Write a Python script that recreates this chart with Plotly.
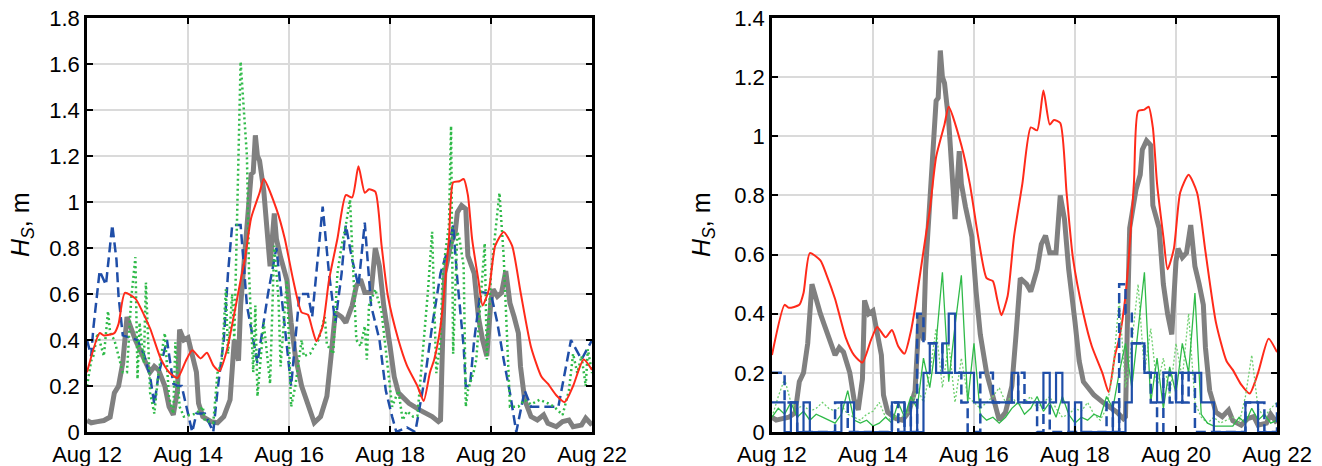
import pandas as pd
import plotly.graph_objects as go
from plotly.subplots import make_subplots

START = pd.Timestamp("2021-08-12")

# ---- shared series (hours since Aug 12 00:00, Hs in m) ----
red_h = [0, 6, 8, 13, 15, 18, 23, 26, 30, 35, 39, 43, 47, 50, 54, 57, 60, 63, 66, 68, 73, 75, 78, 82, 84,
         90, 94, 98, 102, 105, 107, 109, 112, 115, 119, 123, 126, 129, 132, 134, 137, 140, 143, 148, 152,
         157, 160, 163, 165, 168, 172, 174, 177, 179, 181, 183, 186, 188, 191, 194, 198, 202, 206, 211,
         216, 219, 223, 227, 231, 236, 240]
red_v = [0.26, 0.43, 0.42, 0.43, 0.47, 0.605, 0.58, 0.53, 0.45, 0.32, 0.26, 0.235, 0.31, 0.355, 0.32, 0.345,
         0.29, 0.265, 0.34, 0.42, 0.66, 0.75, 0.93, 1.04, 1.10, 0.97, 0.84, 0.66, 0.52, 0.51, 0.45, 0.395,
         0.46, 0.66, 0.84, 1.03, 1.02, 1.155, 1.04, 1.055, 1.045, 0.81, 0.59, 0.40, 0.29, 0.20, 0.135, 0.26,
         0.315, 0.46, 0.84, 1.085, 1.09, 1.10, 1.03, 0.84, 0.66, 0.55, 0.62, 0.81, 0.87, 0.81, 0.61, 0.37,
         0.24, 0.21, 0.16, 0.13, 0.20, 0.315, 0.27]

grey_h = [0, 2, 5, 8, 11, 13, 15, 17, 19, 21, 23, 25, 26, 28, 30, 32, 34, 37, 39, 41, 43, 44, 46, 48, 49,
          52, 53, 55, 59, 62, 65, 68, 70, 72, 73, 75, 77, 78, 79, 80, 81, 82, 84, 86, 87, 89, 90, 92, 95,
          97, 99, 102, 106, 108, 111, 114, 116, 118, 121, 123, 126, 128, 130, 132, 135, 137, 139, 141,
          144, 146, 148, 153, 158, 164, 167, 168, 169, 170, 173, 175, 176, 178, 180, 181, 184, 186, 188,
          190, 192, 193, 195, 197, 199, 201, 203, 205, 206, 208, 211, 214, 217, 219, 223, 226, 229, 231,
          235, 237, 240]
grey_v = [0.05, 0.04, 0.045, 0.05, 0.065, 0.17, 0.20, 0.30, 0.50, 0.445, 0.40, 0.36, 0.34, 0.30, 0.26, 0.285,
          0.27, 0.20, 0.11, 0.075, 0.18, 0.445, 0.40, 0.41, 0.37, 0.26, 0.125, 0.067, 0.045, 0.04, 0.067,
          0.14, 0.40, 0.31, 0.55, 0.77, 0.95, 1.12, 1.13, 1.29, 1.20, 1.18, 1.05, 0.84, 0.72, 0.95, 0.84,
          0.76, 0.66, 0.475, 0.33, 0.20, 0.096, 0.04, 0.067, 0.155, 0.33, 0.52, 0.50, 0.475, 0.55, 0.635,
          0.664, 0.606, 0.606, 0.80, 0.72, 0.55, 0.373, 0.24, 0.17, 0.125, 0.096, 0.067, 0.045, 0.052, 0.40,
          0.69, 0.82, 0.87, 0.955, 0.985, 0.97, 0.766, 0.69, 0.50, 0.40, 0.33, 0.577, 0.62, 0.59, 0.606,
          0.70, 0.56, 0.50, 0.43, 0.285, 0.14, 0.067, 0.052, 0.074, 0.038, 0.023, 0.045, 0.052, 0.023,
          0.03, 0.06, 0.03]

# ---- left panel extra series ----
blueL_h = [0, 2, 3, 6, 9, 12, 14, 15, 17, 20, 24, 27, 30, 32, 34, 38, 41, 43, 45, 50, 52, 56, 60, 62, 65,
           67, 69, 73, 76, 81, 86, 90, 93, 97, 101, 105, 107, 112, 115, 118, 121, 123, 126, 129, 132, 135,
           139, 142, 145, 147, 152, 156, 159, 161, 164, 168, 172, 174, 176, 179, 180, 182, 184, 187, 192,
           195, 198, 201, 204, 208, 211, 224, 230, 235, 240]
blueL_v = [0.40, 0.33, 0.45, 0.70, 0.64, 0.90, 0.75, 0.59, 0.42, 0.41, 0.40, 0.34, 0.24, 0.12, 0.25, 0.40,
           0.21, 0.20, 0.20, 0.0, 0.08, 0.08, 0.0, 0.18, 0.40, 0.69, 0.90, 0.90, 0.55, 0.30, 0.60, 0.80,
           0.55, 0.20, 0.60, 0.60, 0.50, 0.98, 0.69, 0.475, 0.69, 0.90, 0.75, 0.635, 0.91, 0.55, 0.40, 0.18,
           0.067, 0.0, 0.02, 0.0, 0.155, 0.26, 0.46, 0.69, 0.81, 0.90, 0.66, 0.37, 0.20, 0.20, 0.40, 0.61,
           0.60, 0.475, 0.315, 0.17, 0.0, 0.18, 0.11, 0.11, 0.40, 0.315, 0.40]

greenL_h = [0, 2, 3, 5, 8, 10, 11, 13, 15, 17, 19, 21, 23, 24, 25, 27, 28, 30, 32, 34, 37, 39, 41, 42, 44,
            46, 49, 52, 55, 56, 60, 61, 62, 64, 66, 67, 69, 70, 73, 76, 77, 79, 80, 81, 84, 87, 89, 91, 92,
            95, 97, 99, 102, 103, 106, 108, 110, 113, 114, 117, 119, 121, 123, 125, 126, 128, 129, 130,
            132, 133, 134, 136, 137, 140, 143, 145, 148, 150, 152, 155, 157, 160, 162, 164, 166, 168, 169,
            172, 173, 174, 176, 177, 179, 180, 181, 184, 185, 189, 190, 192, 196, 198, 201, 205, 208, 211,
            215, 219, 222, 226, 229, 231, 233, 235, 237, 238, 240]
greenL_v = [0.20, 0.31, 0.33, 0.43, 0.33, 0.525, 0.43, 0.40, 0.33, 0.26, 0.26, 0.58, 0.76, 0.23, 0.475,
            0.30, 0.65, 0.17, 0.08, 0.26, 0.43, 0.15, 0.08, 0.39, 0.11, 0.067, 0.074, 0.08, 0.11, 0.05,
            0.04, 0.155, 0.256, 0.30, 0.62, 0.34, 0.60, 0.40, 1.61, 1.20, 0.69, 0.26, 0.55, 0.155, 0.475,
            0.21, 0.81, 0.58, 0.285, 0.66, 0.11, 0.20, 0.40, 0.33, 0.34, 0.373, 0.40, 0.50, 0.38, 0.34,
            0.69, 0.81, 0.90, 1.01, 0.81, 0.40, 0.387, 0.373, 0.46, 0.315, 0.55, 0.60, 0.62, 0.52, 0.256,
            0.11, 0.18, 0.052, 0.09, 0.067, 0.07, 0.40, 0.61, 0.87, 0.256, 0.40, 0.69, 0.90, 1.33, 0.34,
            0.87, 0.84, 0.72, 0.11, 0.18, 0.27, 0.315, 0.82, 0.315, 0.69, 1.04, 0.766, 0.11, 0.11, 0.14,
            0.12, 0.14, 0.125, 0.11, 0.074, 0.18, 0.34, 0.256, 0.33, 0.20, 0.36, 0.256]

# ---- right panel extra series (3-hourly) ----
hours3 = list(range(0, 241, 3))
blueR_solid = [0.1, 0.1, 0.0, 0.1, 0.0, 0.1, 0.0, 0.0, 0.0, 0.0, 0.0, 0.1, 0.1, 0.0, 0.0, 0.0, 0.0, 0.0,
               0.0, 0.1, 0.1, 0.0, 0.1, 0.0, 0.2, 0.3, 0.2, 0.3, 0.4, 0.2, 0.2, 0.2, 0.1, 0.1, 0.1, 0.1,
               0.1, 0.1, 0.2, 0.1, 0.1, 0.1, 0.1, 0.2, 0.1, 0.2, 0.1, 0.0, 0.1, 0.0, 0.0, 0.0, 0.0, 0.0,
               0.1, 0.0, 0.1, 0.3, 0.3, 0.2, 0.2, 0.1, 0.2, 0.2, 0.1, 0.2, 0.2, 0.2, 0.1, 0.1, 0.0, 0.0,
               0.0, 0.0, 0.0, 0.1, 0.1, 0.0, 0.0, 0.0, 0.0]
blueR_dash = [0.2, 0.2, 0.1, 0.1, 0.0, 0.0, 0.0, 0.0, 0.0, 0.0, 0.1, 0.1, 0.0, 0.0, 0.0, 0.0, 0.0, 0.0,
              0.0, 0.1, 0.0, 0.1, 0.0, 0.4, 0.3, 0.3, 0.3, 0.2, 0.2, 0.2, 0.1, 0.0, 0.0, 0.2, 0.2, 0.1,
              0.1, 0.1, 0.1, 0.2, 0.1, 0.1, 0.0, 0.1, 0.0, 0.0, 0.0, 0.0, 0.0, 0.0, 0.0, 0.0, 0.0, 0.1,
              0.0, 0.5, 0.4, 0.3, 0.3, 0.2, 0.1, 0.0, 0.2, 0.1, 0.2, 0.1, 0.2, 0.0, 0.0, 0.0, 0.0, 0.0,
              0.0, 0.0, 0.0, 0.1, 0.1, 0.1, 0.0, 0.0, 0.1]
greenR_solid = [0.05, 0.08, 0.06, 0.10, 0.05, 0.07, 0.04, 0.06, 0.05, 0.04, 0.03, 0.06, 0.14, 0.04, 0.03,
                0.04, 0.02, 0.03, 0.05, 0.03, 0.10, 0.05, 0.12, 0.08, 0.25, 0.15, 0.30, 0.54, 0.17, 0.36,
                0.53, 0.10, 0.30, 0.06, 0.04, 0.05, 0.03, 0.05, 0.08, 0.10, 0.06, 0.08, 0.12, 0.07, 0.10,
                0.05, 0.12, 0.06, 0.03, 0.05, 0.04, 0.06, 0.05, 0.12, 0.08, 0.20, 0.30, 0.15, 0.35, 0.54,
                0.10, 0.25, 0.08, 0.22, 0.13, 0.30, 0.20, 0.47, 0.06, 0.03, 0.02, 0.02, 0.02, 0.02, 0.05,
                0.03, 0.08, 0.04, 0.06, 0.03, 0.04]
greenR_dot = [0.05, 0.12, 0.18, 0.10, 0.08, 0.09, 0.07, 0.08, 0.10, 0.08, 0.07, 0.09, 0.06, 0.05, 0.04,
              0.06, 0.07, 0.10, 0.05, 0.04, 0.06, 0.05, 0.08, 0.15, 0.10, 0.20, 0.35, 0.15, 0.30, 0.10,
              0.25, 0.12, 0.10, 0.08, 0.10, 0.12, 0.15, 0.10, 0.12, 0.09, 0.10, 0.12, 0.08, 0.10, 0.12,
              0.08, 0.05, 0.06, 0.08, 0.07, 0.10, 0.06, 0.04, 0.08, 0.20, 0.45, 0.15, 0.30, 0.50, 0.20,
              0.35, 0.15, 0.25, 0.12, 0.30, 0.18, 0.40, 0.10, 0.05, 0.03, 0.05, 0.03, 0.04, 0.05, 0.03,
              0.12, 0.26, 0.08, 0.05, 0.08, 0.10]

tick_days = [12, 14, 16, 18, 20, 22]


def t(hours):
    return [START + pd.Timedelta(hours=h) for h in hours]


GREY = "#808080"
RED = "#ff2a1a"
BLUE = "#1f4ea8"
GREEN = "#2fba48"
GREEN_L = "#6fd06f"

fig = make_subplots(rows=1, cols=2, horizontal_spacing=0.1512)

# left panel
fig.add_trace(go.Scatter(x=t(grey_h), y=grey_v, mode="lines", line=dict(color=GREY, width=5)), 1, 1)
fig.add_trace(go.Scatter(x=t(blueL_h), y=blueL_v, mode="lines",
                         line=dict(color=BLUE, width=2.5, dash="10px,5px")), 1, 1)
fig.add_trace(go.Scatter(x=t(greenL_h), y=greenL_v, mode="lines",
                         line=dict(color=GREEN, width=2.5, dash="2px,3px")), 1, 1)
fig.add_trace(go.Scatter(x=t(red_h), y=red_v, mode="lines",
                         line=dict(color=RED, width=2, shape="spline", smoothing=0.6)), 1, 1)

# right panel
fig.add_trace(go.Scatter(x=t(grey_h), y=grey_v, mode="lines", line=dict(color=GREY, width=5)), 1, 2)
fig.add_trace(go.Scatter(x=t(red_h), y=red_v, mode="lines",
                         line=dict(color=RED, width=2, shape="spline", smoothing=0.6)), 1, 2)
fig.add_trace(go.Scatter(x=t(hours3), y=greenR_dot, mode="lines",
                         line=dict(color=GREEN_L, width=1.3, dash="2px,2px")), 1, 2)
fig.add_trace(go.Scatter(x=t(hours3), y=greenR_solid, mode="lines",
                         line=dict(color=GREEN, width=1.3)), 1, 2)
fig.add_trace(go.Scatter(x=t(hours3), y=blueR_dash, mode="lines", line_shape="hv",
                         line=dict(color=BLUE, width=2.5, dash="10px,5px")), 1, 2)
fig.add_trace(go.Scatter(x=t(hours3), y=blueR_solid, mode="lines", line_shape="hv",
                         line=dict(color=BLUE, width=2.2)), 1, 2)

FONT = "Liberation Sans, Arial, Helvetica, sans-serif"
tickvals = [pd.Timestamp(2021, 8, d) for d in tick_days]
ticktext = [f"Aug {d}" for d in tick_days]

axis_common = dict(showline=True, linecolor="black", linewidth=2.5, mirror="ticks",
                   ticks="inside", ticklen=6, tickwidth=2, tickcolor="black",
                   showgrid=True, gridcolor="#dadada", gridwidth=2.2, zeroline=False,
                   automargin=False,
                   tickfont=dict(family=FONT, size=22, color="black"))

for c in (1, 2):
    fig.update_xaxes(range=[tickvals[0], tickvals[-1]], tickvals=tickvals, ticktext=ticktext,
                     ticklabelstandoff=1, row=1, col=c, **axis_common)
fig.update_yaxes(range=[0, 1.8], dtick=0.2, row=1, col=1, **axis_common)
fig.update_yaxes(range=[0, 1.4], dtick=0.2, row=1, col=2, **axis_common)

title = "<i>H</i><sub><i>S</i></sub>, m"
for px in (22, 703):
    fig.add_annotation(text=title, xref="paper", yref="paper", x=(px - 87) / 1190, y=0.5,
                       xanchor="center", yanchor="middle", textangle=-90, showarrow=False,
                       font=dict(family=FONT, size=25, color="black"))

fig.update_layout(width=1322, height=466, margin=dict(l=87, r=45, t=18, b=34),
                  paper_bgcolor="white", plot_bgcolor="white", showlegend=False)

fig.write_html("out.html")
